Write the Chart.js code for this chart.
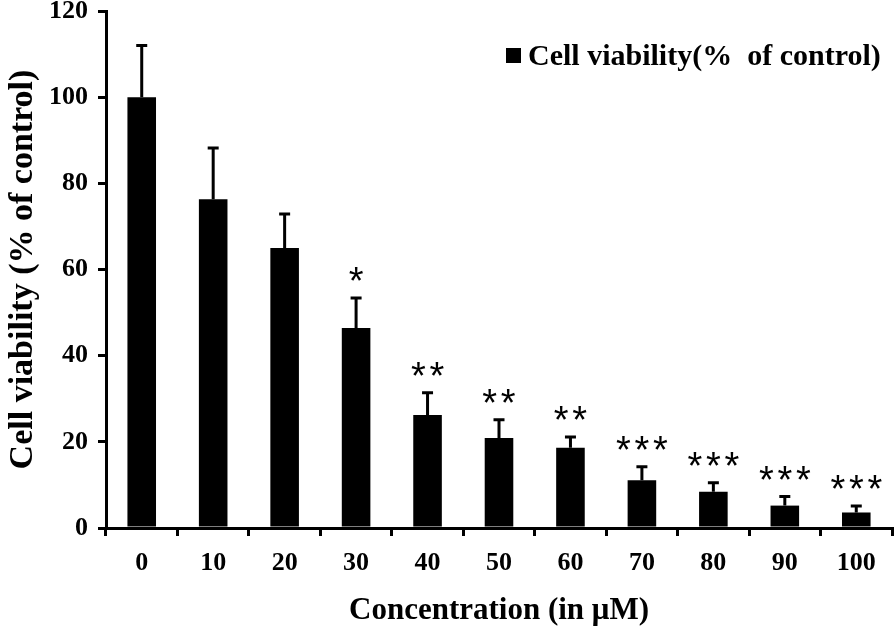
<!DOCTYPE html>
<html>
<head>
<meta charset="utf-8">
<script src="https://cdn.jsdelivr.net/npm/chart.js@4.4.0/dist/chart.umd.min.js"></script>
<style>
  html, body { margin: 0; padding: 0; background: #fff; }
  #wrap { width: 896px; height: 631px; }
</style>
</head>
<body>
<div id="wrap"><canvas id="cellChart" width="896" height="631"></canvas></div>
<script>
// concentrations (uM)
var concLabels = ['0', '10', '20', '30', '40', '50', '60', '70', '80', '90', '100'];
// mean viability, % of control
var viability = [100, 76.3, 65, 46.4, 26.2, 20.9, 18.6, 11.1, 8.4, 5.2, 3.6];
// upper SD
var viabilityErr = [12, 11.9, 7.9, 7, 5.2, 4.2, 2.5, 3.1, 2.1, 2.1, 1.5];
// significance marks
var stars = ['', '', '', '*', '**', '**', '**', '***', '***', '***', '***'];
var yTicks = [0, 20, 40, 60, 80, 100, 120];

var serif = '"Liberation Serif", "Times New Roman", serif';

// upper error bars and asterisks
var errorBars = {
  id: 'errorBars',
  afterDatasetsDraw: function(chart) {
    var ctx = chart.ctx;
    var meta = chart.getDatasetMeta(0);
    var y = chart.scales.y;
    ctx.save();
    ctx.strokeStyle = '#000';
    ctx.lineWidth = 3;
    for (var i = 0; i < viability.length; i++) {
      var bar = meta.data[i];
      var top = y.getPixelForValue(viability[i] + viabilityErr[i]);
      var base = y.getPixelForValue(viability[i]);
      ctx.beginPath();
      ctx.moveTo(bar.x, base);
      ctx.lineTo(bar.x, top);
      ctx.moveTo(bar.x - 5.5, top);
      ctx.lineTo(bar.x + 5.5, top);
      ctx.stroke();

      if (stars[i]) {
        ctx.font = '38px "Liberation Sans", Arial, sans-serif';
        ctx.fillStyle = '#000';
        ctx.textAlign = 'center';
        ctx.textBaseline = 'alphabetic';
        var m = ctx.measureText('*');
        var cy = top - 24;
        var base2 = cy - (m.actualBoundingBoxDescent - m.actualBoundingBoxAscent) / 2;
        var n = stars[i].length;
        for (var k = 0; k < n; k++) {
          var cx = bar.x + (k - (n - 1) / 2) * 18.5;
          ctx.fillText('*', cx, base2);
        }
      }
    }
    ctx.restore();
  }
};

// legend inside the plot, top right
var insideLegend = {
  id: 'insideLegend',
  afterDraw: function(chart) {
    var ctx = chart.ctx;
    ctx.save();
    ctx.fillStyle = '#000';
    ctx.fillRect(506, 48, 15, 15);
    ctx.font = 'bold 30px ' + serif;
    ctx.textAlign = 'left';
    ctx.textBaseline = 'middle';
    ctx.fillText('Cell viability(%  of control)', 528, 57);
    ctx.restore();
  }
};

new Chart(document.getElementById('cellChart'), {
  type: 'bar',
  data: {
    labels: concLabels,
    datasets: [{
      label: 'Cell viability(% of control)',
      data: viability,
      backgroundColor: '#000',
      borderWidth: 0,
      barPercentage: 0.4,
      categoryPercentage: 1.0
    }]
  },
  options: {
    responsive: false,
    animation: false,
    layout: { padding: { top: 11, right: 4, left: 0, bottom: 0 } },
    plugins: {
      legend: { display: false },
      tooltip: { enabled: false }
    },
    scales: {
      x: {
        grid: {
          offset: true,
          drawOnChartArea: false,
          color: '#000',
          lineWidth: 3,
          tickLength: 8
        },
        border: { display: true, color: '#000', width: 3 },
        ticks: {
          color: '#000',
          padding: 12,
          font: { family: serif, size: 26, weight: 'bold' }
        },
        title: {
          display: true,
          text: 'Concentration (in \u03bcM)',
          color: '#000',
          font: { family: serif, size: 31, weight: 'bold' },
          padding: { top: 0, bottom: 1 }
        },
        afterFit: function(scale) {
          scale.height = 103;
          scale.paddingLeft = 0;
          scale.paddingRight = 0;
        }
      },
      y: {
        min: 0,
        max: 120,
        afterBuildTicks: function(scale) {
          scale.ticks = yTicks.map(function(v) { return { value: v }; });
        },
        grid: {
          drawOnChartArea: false,
          color: '#000',
          lineWidth: 3,
          tickLength: 8
        },
        border: { display: true, color: '#000', width: 3 },
        ticks: {
          color: '#000',
          padding: 10,
          font: { family: serif, size: 26, weight: 'bold' }
        },
        title: {
          display: true,
          text: 'Cell viability (% of control)',
          color: '#000',
          font: { family: serif, size: 34, weight: 'bold' },
          padding: { top: 3, bottom: 0 }
        },
        afterFit: function(scale) {
          scale.width = 106;
          scale.paddingTop = 0;
          scale.paddingBottom = 0;
        }
      }
    }
  },
  plugins: [errorBars, insideLegend]
});
</script>
</body>
</html>
